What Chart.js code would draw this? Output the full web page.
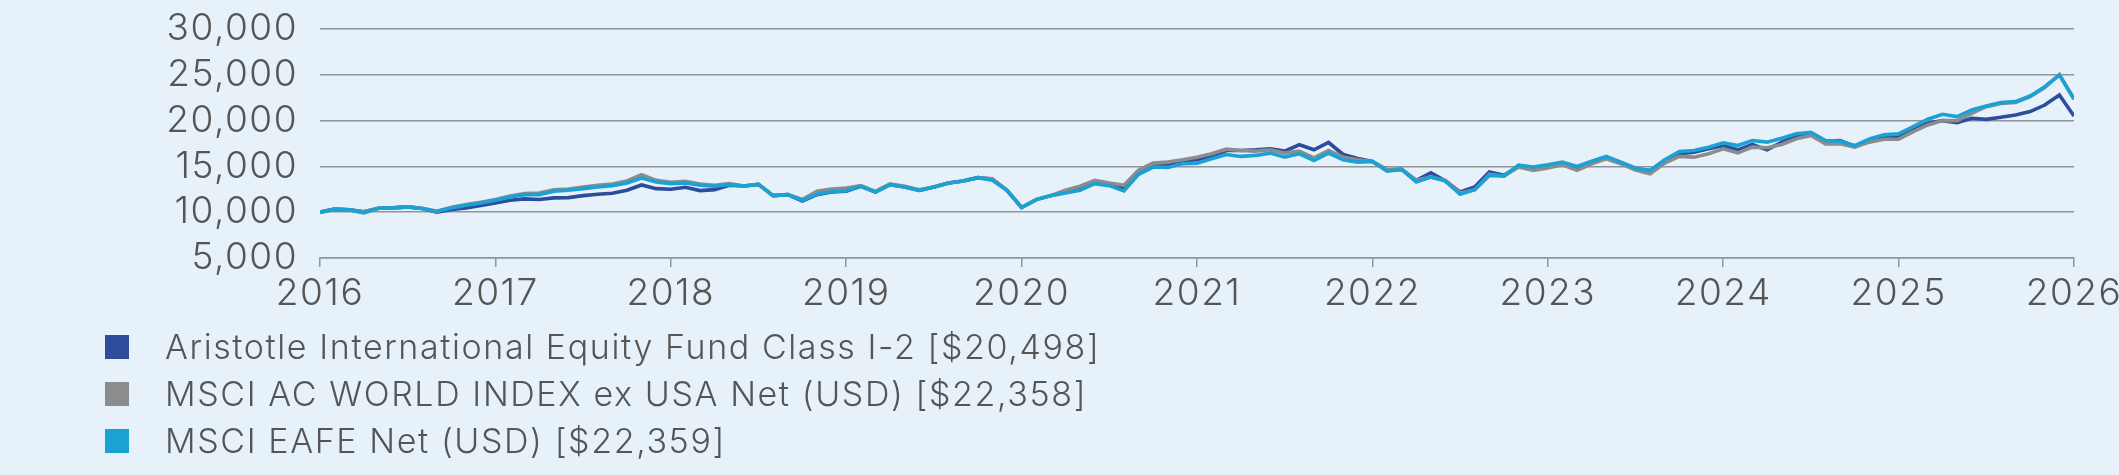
<!DOCTYPE html>
<html>
<head>
<meta charset="utf-8">
<script src="https://cdn.jsdelivr.net/npm/chart.js@4.4.1/dist/chart.umd.min.js"></script>
<style>
  html, body { margin: 0; padding: 0; background: #E6F1FA; }
  #wrap { position: relative; width: 2119px; height: 475px; background: #E6F1FA; overflow: hidden; }
  #c { position: absolute; left: 0; top: 0; }
  .leg { position: absolute; left: 105px; font-family: 'Inter', sans-serif; font-weight: 300; font-size: 34px; letter-spacing: 1.6px; color: #555; white-space: nowrap; line-height: 40px; }
  .leg .sq { position: absolute; left: 0; top: 8px; width: 24px; height: 24px; }
  .leg .tx { position: absolute; left: 60px; top: 0; }
</style>
</head>
<body>
<div id="wrap">
  <canvas id="c" width="2119" height="475"></canvas>
  <div id="legend"></div>
</div>
<script>
const yearLabels = ['2016','2017','2018','2019','2020','2021','2022','2023','2024','2025','2026'];
const seriesNames = [
  'Aristotle International Equity Fund Class I-2 [$20,498]',
  'MSCI AC WORLD INDEX ex USA Net (USD) [$22,358]',
  'MSCI EAFE Net (USD) [$22,359]'
];
const seriesColors = ['#2D4C9C', '#8B8C8E', '#1BA2D5'];

const fund = [10000,10330,10250,10050,10430,10470,10580,10400,10000,10290,10470,10725,
  11010,11300,11450,11380,11560,11590,11810,11960,12070,12390,12970,12570,
  12500,12720,12360,12460,12940,12860,13040,11810,11920,11230,11920,12210,
  12280,12830,12210,13000,12750,12390,12750,13190,13400,13770,13590,12390,
  10510,11380,11810,12210,12570,13300,13040,12570,14200,15110,15220,15540,
  15720,16090,16740,16740,16810,16920,16670,17360,16810,17610,16300,15870,
  15540,14640,14670,13480,14310,13400,12210,12750,14380,14020,15000,14750,
  15000,15300,14800,15400,15900,15400,14750,14560,15580,16380,16560,16920,
  17280,16810,17390,16810,17650,18260,18620,17750,17830,17170,17790,18190,
  18190,18990,19710,20000,19780,20250,20140,20360,20620,20980,21700,22790,
  20498];
const acwi = [10000,10330,10250,10050,10430,10470,10580,10400,10100,10540,10830,11090,
  11380,11780,12030,12100,12460,12540,12750,12940,13080,13410,14090,13480,
  13260,13370,13080,12940,13120,12860,13040,11810,11920,11380,12280,12540,
  12640,12900,12280,13080,12830,12460,12750,13190,13400,13770,13660,12390,
  10510,11380,11810,12390,12830,13480,13190,12940,14570,15360,15470,15720,
  16010,16380,16880,16740,16670,16810,16450,16670,15940,16740,16010,15720,
  15540,14640,14670,13480,13840,13480,12100,12460,14130,13950,14930,14570,
  14820,15180,14570,15290,15830,15290,14600,14200,15360,16090,16010,16380,
  16920,16480,17100,17030,17390,18010,18370,17460,17460,17100,17650,17970,
  17970,18800,19530,20000,20000,20800,21520,21880,21990,22610,23620,25040,
  22358];
const eafe = [10000,10330,10250,9930,10430,10470,10580,10400,10100,10470,10760,11010,
  11300,11670,11920,11920,12280,12390,12570,12750,12900,13190,13730,13300,
  13120,13190,12940,12830,13010,12860,13040,11810,11920,11300,11950,12250,
  12350,12830,12210,13000,12750,12390,12750,13190,13400,13770,13480,12390,
  10510,11380,11810,12100,12390,13120,12900,12320,14130,14930,14890,15290,
  15360,15830,16300,16090,16200,16450,16010,16380,15650,16450,15720,15470,
  15540,14490,14670,13300,13840,13400,11960,12460,14020,13950,15150,14930,
  15180,15470,15000,15580,16090,15470,14800,14560,15720,16630,16740,17100,
  17570,17280,17830,17650,18080,18550,18730,17830,17750,17280,18010,18440,
  18550,19350,20150,20690,20440,21160,21590,21960,22070,22680,23700,24960,
  22359];

const yTicks = [5000, 10000, 15000, 20000, 25000, 30000];

function toPoints(arr) { return arr.map((v, i) => ({ x: i, y: v })); }

const spacingPlugin = {
  id: 'letterSpacing',
  beforeUpdate(chart) { chart.ctx.letterSpacing = '1.5px'; },
  beforeDraw(chart) { chart.ctx.letterSpacing = '1.5px'; }
};

function build() {
  const seriesData = [fund, acwi, eafe];
  const datasets = seriesData.map((arr, i) => ({
    label: seriesNames[i],
    data: toPoints(arr),
    borderColor: seriesColors[i],
    backgroundColor: seriesColors[i],
    borderWidth: 3.6,
    pointRadius: 0,
    tension: 0,
    borderJoinStyle: 'miter',
    order: 3 - i
  }));

  const tickFont = { family: 'Inter', weight: '300', size: 37 };

  new Chart(document.getElementById('c'), {
    type: 'line',
    data: { datasets },
    plugins: [spacingPlugin],
    options: {
      responsive: false,
      animation: false,
      events: [],
      layout: { padding: { top: 29, left: 0, right: 45, bottom: 0 } },
      plugins: { legend: { display: false }, tooltip: { enabled: false } },
      scales: {
        x: {
          type: 'linear',
          min: 0,
          max: (yearLabels.length - 1) * 12,
          afterBuildTicks: (s) => { s.ticks = yearLabels.map((_, i) => ({ value: i * 12 })); },
          afterFit: (s) => { s.height = 475 - 258; s.paddingLeft = 0; s.paddingRight = 0; },
          grid: { drawOnChartArea: false, drawTicks: true, tickLength: 9, color: '#8E959B', lineWidth: 1.5 },
          border: { display: true, color: '#8E959B', width: 1.5 },
          ticks: {
            autoSkip: false,
            maxRotation: 0,
            padding: 5,
            color: '#555555',
            font: tickFont,
            callback: (v) => yearLabels[Math.round(v / 12)]
          }
        },
        y: {
          min: yTicks[0],
          max: yTicks[yTicks.length - 1],
          afterBuildTicks: (s) => { s.ticks = yTicks.map(v => ({ value: v })); },
          afterFit: (s) => { s.width = 320; s.paddingTop = 0; s.paddingBottom = 0; },
          grid: { drawTicks: false, color: '#8E959B', lineWidth: 1.5 },
          border: { display: false },
          ticks: {
            autoSkip: false,
            padding: 22,
            color: '#555555',
            font: tickFont,
            callback: (v) => v.toLocaleString('en-US')
          }
        }
      }
    }
  });

  const legend = document.getElementById('legend');
  const rowTops = [327, 374, 421];
  seriesNames.forEach((name, i) => {
    const row = document.createElement('div');
    row.className = 'leg';
    row.style.top = rowTops[i] + 'px';
    const sq = document.createElement('div');
    sq.className = 'sq';
    sq.style.background = seriesColors[i];
    const tx = document.createElement('div');
    tx.className = 'tx';
    tx.textContent = name;
    row.appendChild(sq);
    row.appendChild(tx);
    legend.appendChild(row);
  });
}

const fontReady = (document.fonts && document.fonts.load)
  ? Promise.all([document.fonts.load('300 37px Inter'), document.fonts.load('300 34px Inter')]).catch(() => {})
  : Promise.resolve();
fontReady.then(build);
</script>
</body>
</html>
